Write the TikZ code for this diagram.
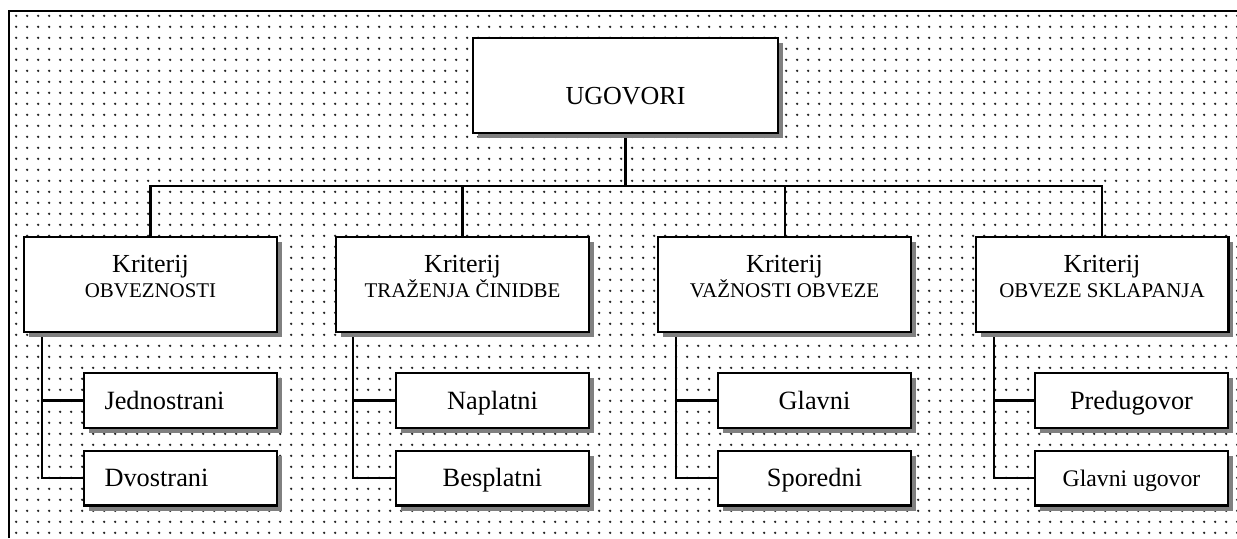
\documentclass[tikz,border=0pt]{standalone}
\usepackage{fontspec}
\setmainfont{Liberation Serif}
\usetikzlibrary{shadows,backgrounds,patterns}

\pgfdeclarepatternformonly{kvdots}{\pgfpointorigin}{\pgfqpoint{6.08pt}{6.08pt}}{\pgfqpoint{6.08pt}{6.08pt}}{%
  \pgfpathcircle{\pgfqpoint{3.04pt}{3.04pt}}{0.75pt}\pgfusepath{fill}}

\tikzset{
  kbox/.style={draw, rectangle, line width=1.15pt, fill=white,
    drop shadow={shadow xshift=0.1cm, shadow yshift=-0.1cm, fill=black!50, opacity=1}},
  kcrit/.style={kbox, minimum width=5.06cm, minimum height=1.9cm, align=center,
    text depth=9pt, font=\fontsize{14.8}{14.2}\selectfont},
  kitem/.style={kbox, minimum width=3.86cm, minimum height=1.1cm,
    text height=9.9pt, text depth=0pt, font=\fontsize{15}{18}\selectfont},
  kitemleft/.style={kitem, align=left, text width=3.04cm, inner xsep=0.42cm},
  kline/.style={line width=1.15pt}
}

\begin{document}
\begin{tikzpicture}[x=0.02cm, y=-0.02cm]
    \useasboundingbox (0,0) rectangle (1237,538);

    % top
    \node[kbox, minimum width=6.1cm, minimum height=1.9cm, text height=22pt, text depth=0pt,
          font=\fontsize{14.8}{17}\selectfont] (ugovori) at (625.5,85.5) {UGOVORI};

    % kriteriji
    \node[kcrit] (k1) at (150.5,284.5) {Kriterij\\{\fontsize{11.9}{14.2}\selectfont OBVEZNOSTI}};
    \node[kcrit] (k2) at (462.5,284.5) {Kriterij\\{\fontsize{11.9}{14.2}\selectfont TRAŽENJA ČINIDBE}};
    \node[kcrit] (k3) at (784.5,284.5) {Kriterij\\{\fontsize{11.9}{14.2}\selectfont VAŽNOSTI OBVEZE}};
    \node[kcrit] (k4) at (1102,284.5) {Kriterij\\{\fontsize{11.9}{14.2}\selectfont OBVEZE SKLAPANJA}};

    % vrste
    \node[kitemleft] (c11) at (180.5,400.5) {Jednostrani};
    \node[kitemleft] (c12) at (180.5,478) {Dvostrani};
    \node[kitem] (c21) at (492.5,400.5) {Naplatni};
    \node[kitem] (c22) at (492.5,478) {Besplatni};
    \node[kitem] (c31) at (814.5,400.5) {Glavni};
    \node[kitem] (c32) at (814.5,478) {Sporedni};
    \node[kitem] (c41) at (1131.5,400.5) {Predugovor};
    \node[kitem, font=\fontsize{13.5}{16}\selectfont] (c42) at (1131.5,478) {Glavni ugovor};

    \coordinate (bus) at (625.5,186);
    \coordinate (s1) at ([xshift=0.38cm]k1.south west);
    \coordinate (s2) at ([xshift=0.36cm]k2.south west);
    \coordinate (s3) at ([xshift=0.38cm]k3.south west);
    \coordinate (s4) at ([xshift=0.38cm]k4.south west);

    \begin{scope}[on background layer]
        \fill[white] (0,0) rectangle (1237,538);
        \fill[pattern=kvdots, pattern color=black!85] (9,11) rectangle (1237,538);

        \draw[kline] (ugovori) -- (bus);
        \draw[kline] (k1.north) |- (bus) -| (k4.north);
        \draw[kline] (k2.north) -- (k2.north |- bus);
        \draw[kline] (k3.north) -- (k3.north |- bus);

        \draw[kline] (s1) |- (c12.west);
        \draw[kline] (s1 |- c11.west) -- (c11.west);
        \draw[kline] (s2) |- (c22.west);
        \draw[kline] (s2 |- c21.west) -- (c21.west);
        \draw[kline] (s3) |- (c32.west);
        \draw[kline] (s3 |- c31.west) -- (c31.west);
        \draw[kline] (s4) |- (c42.west);
        \draw[kline] (s4 |- c41.west) -- (c41.west);
    \end{scope}

    % okvir
    \draw[kline] (9,538) -- (9,11) -- (1237,11);
\end{tikzpicture}
\end{document}
